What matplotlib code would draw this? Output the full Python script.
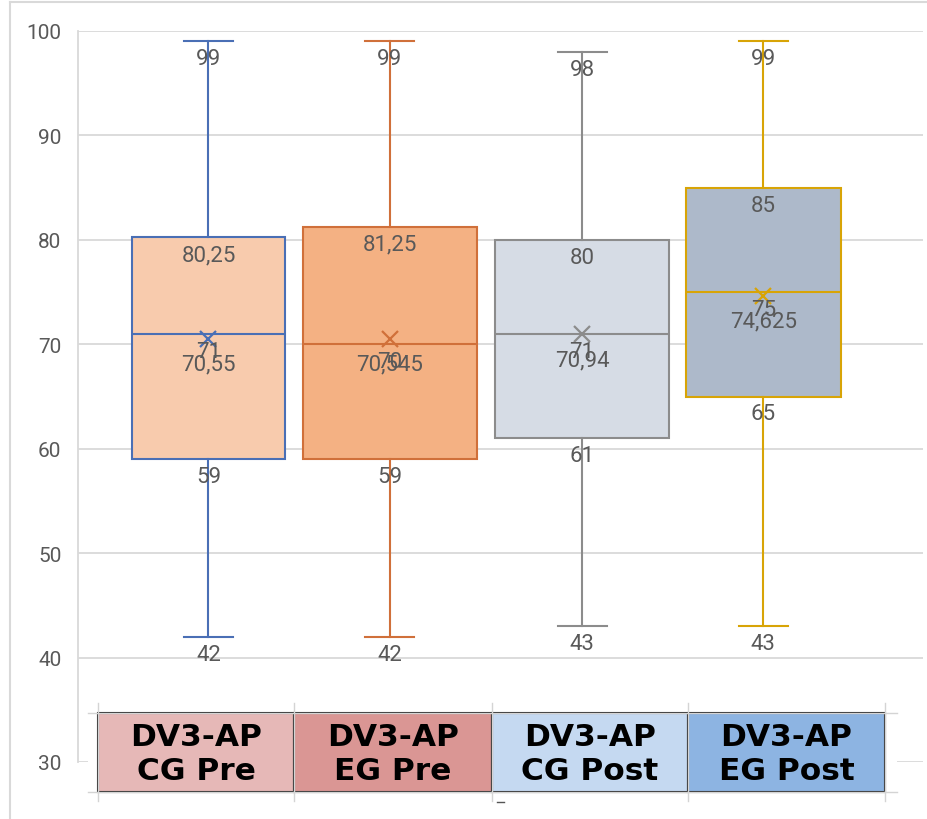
import matplotlib
matplotlib.use("Agg")
import matplotlib.pyplot as plt
from matplotlib.patches import Rectangle

# Dados (box plot estilo Excel)
groups = ["DV3-AP\nCG Pre", "DV3-AP\nEG Pre", "DV3-AP\nCG Post", "DV3-AP\nEG Post"]
mins = [42, 42, 43, 43]
q1s = [59, 59, 61, 65]
medians = [71, 70, 71, 75]
means = [70.55, 70.545, 70.94, 74.625]
q3s = [80.25, 81.25, 80, 85]
maxs = [99, 99, 98, 99]
yticks = [30, 40, 50, 60, 70, 80, 90, 100]

# Cores
edge_colors = ['#4A6FB5', '#D0703A', '#8C8C8C', '#D8A406']
fill_colors = ['#F8CBAD', '#F4B183', '#D6DCE5', '#ADB9CA']
cell_colors = ['#E6B8B7', '#DA9694', '#C5D9F1', '#8DB4E2']
GRID = '#D9D9D9'
LABEL = '#595959'

# Layout (fração do eixo x)
positions = [0.1544, 0.369, 0.5965, 0.811]
widths = [0.181, 0.206, 0.206, 0.1834]


def fmt(v):
    return f"{v:g}".replace('.', ',')


fig = plt.figure(figsize=(9.28, 8.2), dpi=100)
W, H = 928, 820
ax = fig.add_axes([78 / W, 1 - 763 / H, (923 - 78) / W, (763 - 32) / H])

stats = []
for i in range(len(groups)):
    stats.append(dict(med=medians[i], q1=q1s[i], q3=q3s[i], whislo=mins[i],
                      whishi=maxs[i], mean=means[i], fliers=[]))

res = ax.bxp(stats, positions=positions, widths=widths, capwidths=[0.058] * 4,
             patch_artist=True, showmeans=True, showfliers=False, manage_ticks=False,
             meanprops=dict(marker='x', markersize=12, markeredgewidth=1.6))

for i in range(len(groups)):
    c = edge_colors[i]
    res['boxes'][i].set_facecolor(fill_colors[i])
    res['boxes'][i].set_edgecolor(c)
    res['boxes'][i].set_linewidth(1.5)
    for art in res['whiskers'][2 * i:2 * i + 2] + res['caps'][2 * i:2 * i + 2]:
        art.set_color(c)
        art.set_linewidth(1.5)
    res['medians'][i].set_color(c)
    res['medians'][i].set_linewidth(1.5)
    res['means'][i].set_markeredgecolor(c)
    res['means'][i].set_markerfacecolor(c)

    # rótulos de dados
    for v in (maxs[i], q3s[i], medians[i], q1s[i], mins[i]):
        ax.annotate(fmt(v), (positions[i], v), xytext=(0, -16.5), textcoords='offset points',
                    ha='center', va='baseline', fontsize=16, color=LABEL, family='Roboto',
                    zorder=5)
    ax.annotate(fmt(means[i]), (positions[i], means[i]), xytext=(0, -22),
                textcoords='offset points', ha='center', va='baseline', fontsize=16,
                color=LABEL, family='Roboto', zorder=5)

ax.set_xlim(0, 1)
ax.set_ylim(30, 100)
ax.set_yticks(yticks)
ax.set_xticks([])
ax.tick_params(axis='y', length=0, pad=12, labelsize=15, labelcolor=LABEL)
for lab in ax.get_yticklabels():
    lab.set_family('Roboto')
ax.grid(True, axis='y', color=GRID, linewidth=1.3)
ax.set_axisbelow(True)
for s in ['top', 'right', 'bottom']:
    ax.spines[s].set_visible(False)
ax.spines['left'].set_color(GRID)
ax.spines['left'].set_linewidth(1.3)

# Tabela colada por cima dos rótulos do eixo x (coordenadas em pixels)
tab = fig.add_axes([0, 0, 1, 1], zorder=10)
tab.set_xlim(0, W)
tab.set_ylim(H, 0)
tab.axis('off')
tab.patch.set_alpha(0)

# bordas externas do gráfico
tab.plot([10, 10], [3, H], color=GRID, lw=1.5)
tab.plot([10, W], [3, 3], color=GRID, lw=1.5)

tab.add_patch(Rectangle((88, 698), 809, 114, facecolor='white', edgecolor='none'))
xs = [98, 294, 492, 688, 885]
top, bot = 714, 793
for y in (top, bot):
    tab.plot([88, 897], [y, y], color='#D4D4D4', lw=1)
for x in xs:
    tab.plot([x, x], [704, 802], color='#D4D4D4', lw=1)
tab.plot([497, 504], [803, 803], color='#555555', lw=1)

for i, name in enumerate(groups):
    x0, x1 = xs[i], xs[i + 1]
    tab.add_patch(Rectangle((x0, top), x1 - x0, bot - top, facecolor=cell_colors[i],
                            edgecolor='#262626', lw=1.5))
    l1, l2 = name.split('\n')
    cx = (x0 + x1) / 2
    tab.text(cx, 746, l1, ha='center', va='baseline', fontsize=22.5, fontweight='bold',
             color='black', family='DejaVu Sans')
    tab.text(cx, 780, l2, ha='center', va='baseline', fontsize=22.5, fontweight='bold',
             color='black', family='DejaVu Sans')

fig.savefig('out.png', dpi=100, facecolor='white')
